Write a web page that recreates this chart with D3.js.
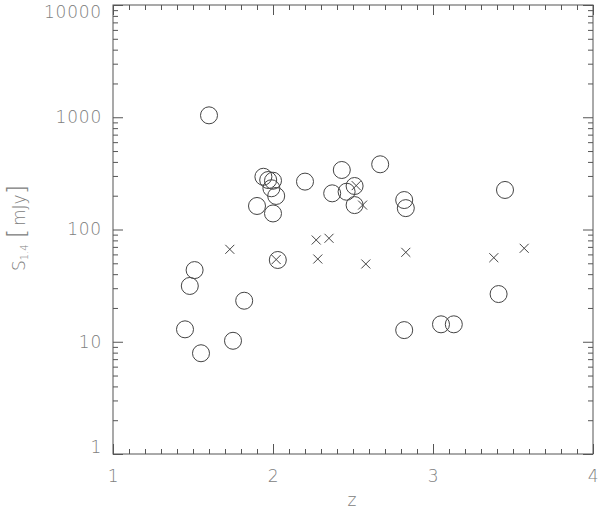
<!DOCTYPE html>
<html><head><meta charset="utf-8">
<script src="https://cdn.jsdelivr.net/npm/d3@7"></script>
<style>body{margin:0;background:#fff}</style>
</head><body>
<svg id="c" width="600" height="511"></svg>
<script>
// Circles (z, S_1.4 in mJy)
const circleZ = [1.60,1.94,1.97,2.00,1.99,2.02,1.90,2.00,2.20,2.43,2.67,2.37,2.46,2.51,2.51,2.82,2.83,3.45,1.51,1.48,1.82,1.45,1.75,1.55,2.03,3.41,3.05,3.13,2.82];
const circleS = [1040,295,276,272,233,199,162,139,267,339,381,210,217,244,165,183,155,225,43.5,31.4,23.2,12.9,10.2,7.9,53.5,26.6,14.3,14.3,12.7];
// Crosses
const crossZ = [1.73,2.27,2.35,2.28,2.58,2.83,3.38,3.57,2.56,2.02,2.52];
const crossS = [66.6,80.6,83.5,54.6,49.3,62.6,56.1,68,165,54,246];
const xTicks = [1,2,3,4];
const yTicks = [1,10,100,1000,10000];

const svg = d3.select("#c");
const L=113,R=593,T=5,B=454;
const x = d3.scaleLinear().domain([1,4]).range([L,R]);
const y = d3.scaleLog().domain([1,10000]).range([B,T]);
const axisCol="#555", textCol="#808080";
const font="'DejaVu Sans', sans-serif";

// frame
svg.append("rect").attr("x",L).attr("y",T).attr("width",R-L).attr("height",B-T)
  .attr("fill","none").attr("stroke",axisCol).attr("stroke-width",1);

const xMinor = d3.range(1,4.0001,0.1).map(v=>+v.toFixed(2));
const yMinor = [];
for(let d=1; d<10000; d*=10) for(let k=2;k<=9;k++) yMinor.push(d*k);

function styleAxis(g){
  g.select(".domain").remove();
  g.selectAll("line").attr("stroke",axisCol);
  g.selectAll("text").attr("fill",textCol).attr("font-family",font)
   .attr("font-size",17).attr("letter-spacing",0.8).attr("font-weight",200);
}
// bottom
svg.append("g").attr("transform",`translate(0,${B})`)
  .call(d3.axisBottom(x).tickValues(xMinor).tickSize(-5).tickFormat(""))
  .call(styleAxis);
svg.append("g").attr("transform",`translate(0,${B})`)
  .call(d3.axisBottom(x).tickValues(xTicks).tickSize(-10).tickPadding(16).tickFormat(d3.format("d")))
  .call(styleAxis);
// top
svg.append("g").attr("transform",`translate(0,${T})`)
  .call(d3.axisTop(x).tickValues(xMinor).tickSize(-5).tickFormat(""))
  .call(styleAxis);
svg.append("g").attr("transform",`translate(0,${T})`)
  .call(d3.axisTop(x).tickValues(xTicks).tickSize(-10).tickFormat(""))
  .call(styleAxis);
// left
svg.append("g").attr("transform",`translate(${L},0)`)
  .call(d3.axisLeft(y).tickValues(yMinor).tickSize(-5).tickFormat(""))
  .call(styleAxis);
const yl = svg.append("g").attr("transform",`translate(${L},0)`)
  .call(d3.axisLeft(y).tickValues(yTicks).tickSize(-10).tickPadding(11).tickFormat(d3.format("d")))
  .call(styleAxis);
// keep extreme labels inside the frame height
yl.selectAll("text").attr("transform",d=> d===10000 ? "translate(0,7)" : d===1 ? "translate(0,-7)" : null);
// right
svg.append("g").attr("transform",`translate(${R},0)`)
  .call(d3.axisRight(y).tickValues(yMinor).tickSize(-5).tickFormat(""))
  .call(styleAxis);
svg.append("g").attr("transform",`translate(${R},0)`)
  .call(d3.axisRight(y).tickValues(yTicks).tickSize(-10).tickFormat(""))
  .call(styleAxis);

// axis titles
svg.append("text").attr("x",352).attr("y",506).attr("text-anchor","middle")
  .attr("fill",textCol).attr("font-family",font).attr("font-size",17).attr("font-weight",200).text("z");
const yt = svg.append("text").attr("transform","translate(25,228) rotate(-90)")
  .attr("text-anchor","middle").attr("fill",textCol).attr("font-family",font)
  .attr("font-size",17).attr("font-weight",200);
yt.append("tspan").text("S");
yt.append("tspan").attr("font-size",10).attr("dy",3).text("1.4");
yt.append("tspan").attr("dy",-3).attr("font-size",24).attr("dx",6).text("[");
yt.append("tspan").attr("dx",3).text("mJy");
yt.append("tspan").attr("font-size",24).text("]");

// data
const circles = circleZ.map((z,i)=>({z, s:circleS[i]}));
const crosses = crossZ.map((z,i)=>({z, s:crossS[i]}));
svg.append("g").selectAll("circle").data(circles).join("circle")
  .attr("cx",d=>x(d.z)).attr("cy",d=>y(d.s)).attr("r",8.5)
  .attr("fill","none").attr("stroke","#444").attr("stroke-width",1);
const h=4.5;
svg.append("g").selectAll("path").data(crosses).join("path")
  .attr("d",d=>{const cx=x(d.z), cy=y(d.s);
    return `M${cx-h},${cy-h}L${cx+h},${cy+h}M${cx-h},${cy+h}L${cx+h},${cy-h}`;})
  .attr("stroke","#444").attr("stroke-width",1).attr("fill","none");
</script>
</body></html>
